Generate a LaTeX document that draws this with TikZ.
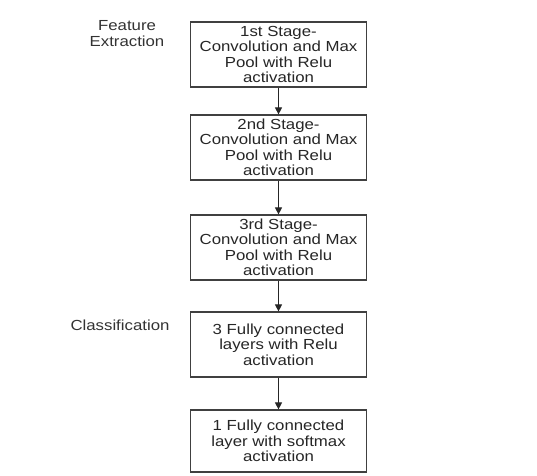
\documentclass[tikz,border=0pt]{standalone}
\usepackage{fontspec}
\setmainfont[FakeStretch=1.15]{Liberation Sans}
\usetikzlibrary{arrows.meta}
\begin{document}
\begin{tikzpicture}[x=1pt,y=1pt,
  stagebox/.style={draw=black!75, line width=1.2pt, minimum width=176pt, minimum height=65pt,
    align=center, text=black!85, font=\fontsize{14.6}{15.5}\selectfont, inner sep=1pt},
  lbl/.style={align=center, text=black!80, font=\fontsize{14.6}{16}\selectfont},
  conn/.style={draw=black!85, line width=0.9pt, -{Triangle[length=7pt,width=7pt]}}]
\useasboundingbox (0,0) rectangle (537,-475);
\fill[white] (0,0) rectangle (537,-475);
\node[stagebox] (s1) at (278.5,-54.5) {1st Stage-\\Convolution and Max\\Pool with Relu\\activation};
\node[stagebox] (s2) at (278.5,-147.5) {2nd Stage-\\Convolution and Max\\Pool with Relu\\activation};
\node[stagebox] (s3) at (278.5,-247.5) {3rd Stage-\\Convolution and Max\\Pool with Relu\\activation};
\node[stagebox] (s4) at (278.5,-344.5) {3 Fully connected\\layers with Relu\\activation};
\node[stagebox, minimum height=62pt] (s5) at (278.5,-441) {1 Fully connected\\layer with softmax\\activation};
\node[lbl] (fe) at (127,-34) {Feature\\Extraction};
\node[lbl] (cl) at (120,-325) {Classification};
\draw[conn] (s1) -- (s2);
\draw[conn] (s2) -- (s3);
\draw[conn] (s3) -- (s4);
\draw[conn] (s4) -- (s5);
\end{tikzpicture}
\end{document}
